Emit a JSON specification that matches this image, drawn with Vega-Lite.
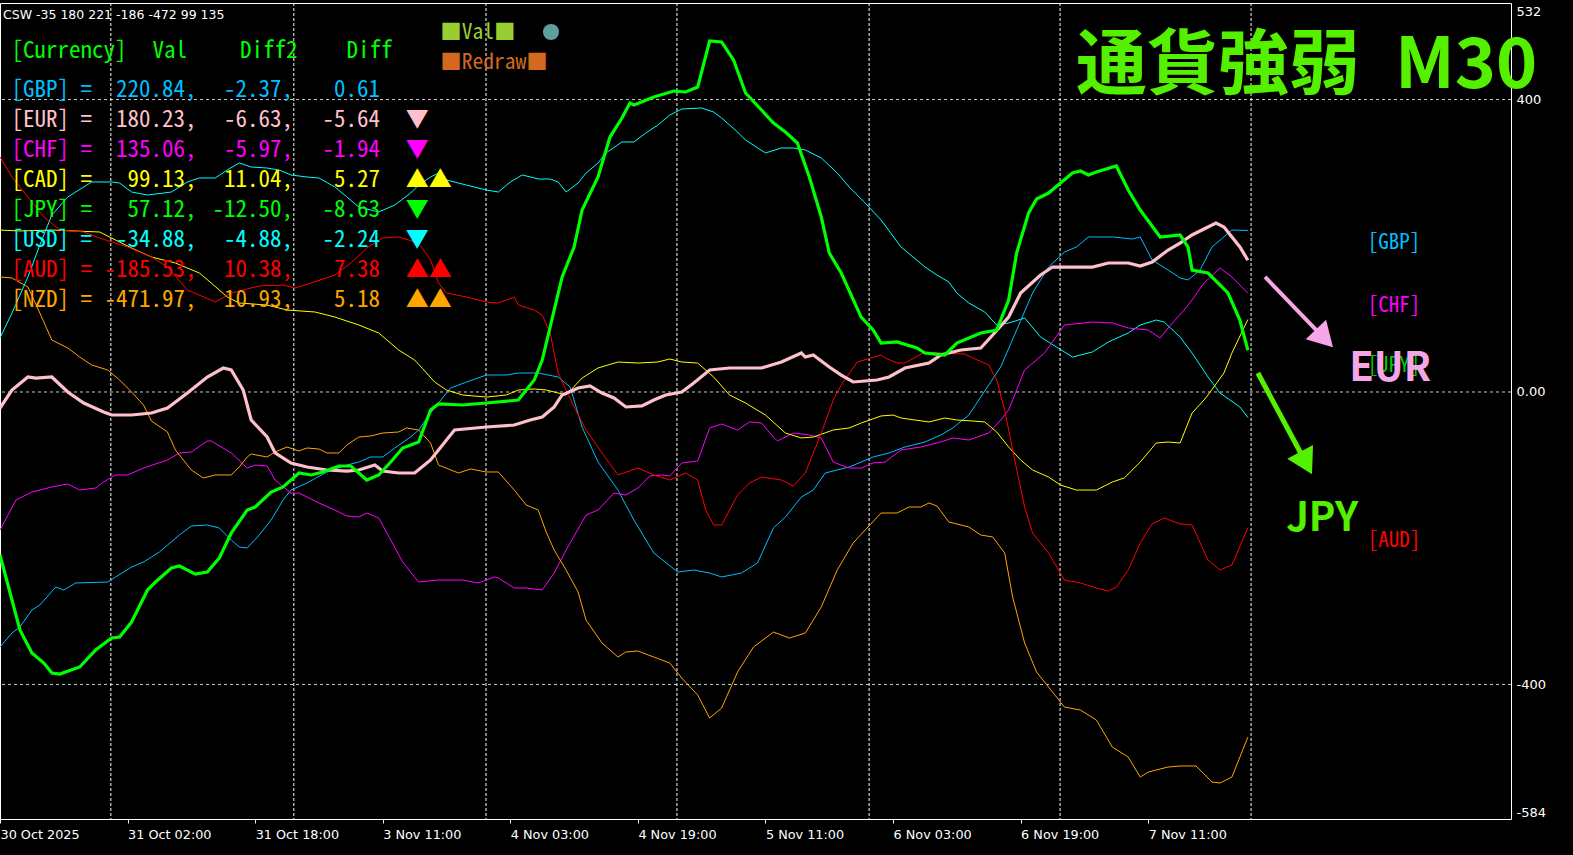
{
"$schema":"https://vega.github.io/schema/vega-lite/v6.json",
"width":1511,"height":816,
"autosize":{"type":"none"},
"padding":{"left":0,"top":3,"right":62,"bottom":36},
"background":"#000000",
"config":{"view":{"stroke":"#ffffff","strokeWidth":1},
"locale":{"number":{"decimal":".","thousands":",","grouping":[3],"currency":["$",""],"minus":"-"}}},
"datasets":{
"hgrid":[{"v":400},{"v":0},{"v":-400}],
"vgrid":[{"bar":27.8},{"bar":73.7},{"bar":121.9},{"bar":169.8},{"bar":218},{"bar":265.9},{"bar":313.8}],
"table":[
{"cur":"GBP","label":"[GBP]","val":220.84,"diff2":-2.37,"diff":0.61,"sig":""},
{"cur":"EUR","label":"[EUR]","val":180.23,"diff2":-6.63,"diff":-5.64,"sig":"▼"},
{"cur":"CHF","label":"[CHF]","val":135.06,"diff2":-5.97,"diff":-1.94,"sig":"▼"},
{"cur":"CAD","label":"[CAD]","val":99.13,"diff2":11.04,"diff":5.27,"sig":"▲▲"},
{"cur":"JPY","label":"[JPY]","val":57.12,"diff2":-12.50,"diff":-8.63,"sig":"▼"},
{"cur":"USD","label":"[USD]","val":-34.88,"diff2":-4.88,"diff":-2.24,"sig":"▼"},
{"cur":"AUD","label":"[AUD]","val":-185.53,"diff2":10.38,"diff":7.38,"sig":"▲▲"},
{"cur":"NZD","label":"[NZD]","val":-471.97,"diff2":10.93,"diff":5.18,"sig":"▲▲"}
],
"series":[
{"cur":"USD","bar":0,"v":73.8},{"cur":"USD","bar":3,"v":108.0},{"cur":"USD","bar":7,"v":157.3},{"cur":"USD","bar":10,"v":201.0},{"cur":"USD","bar":13,"v":242.1},{"cur":"USD","bar":17,"v":266.7},{"cur":"USD","bar":23,"v":287.2},{"cur":"USD","bar":28,"v":287.2},{"cur":"USD","bar":30,"v":285.8},{"cur":"USD","bar":33,"v":273.5},{"cur":"USD","bar":37,"v":269.4},{"cur":"USD","bar":41,"v":272.1},{"cur":"USD","bar":43,"v":273.5},{"cur":"USD","bar":47,"v":287.2},{"cur":"USD","bar":50,"v":292.7},{"cur":"USD","bar":54,"v":292.7},{"cur":"USD","bar":57,"v":303.6},{"cur":"USD","bar":60,"v":313.2},{"cur":"USD","bar":63,"v":307.7},{"cur":"USD","bar":67,"v":306.3},{"cur":"USD","bar":70,"v":303.6},{"cur":"USD","bar":73,"v":296.8},{"cur":"USD","bar":77,"v":294.0},{"cur":"USD","bar":80,"v":292.7},{"cur":"USD","bar":84,"v":280.4},{"cur":"USD","bar":87,"v":266.7},{"cur":"USD","bar":90,"v":253.0},{"cur":"USD","bar":95,"v":246.2},{"cur":"USD","bar":99,"v":255.7},{"cur":"USD","bar":103,"v":272.1},{"cur":"USD","bar":105,"v":283.1},{"cur":"USD","bar":108,"v":294.0},{"cur":"USD","bar":110,"v":299.5},{"cur":"USD","bar":112,"v":289.9},{"cur":"USD","bar":117,"v":283.0},{"cur":"USD","bar":122,"v":276.2},{"cur":"USD","bar":125,"v":273.5},{"cur":"USD","bar":128,"v":287.2},{"cur":"USD","bar":131,"v":296.8},{"cur":"USD","bar":135,"v":291.3},{"cur":"USD","bar":138,"v":291.3},{"cur":"USD","bar":140,"v":287.2},{"cur":"USD","bar":142,"v":273.5},{"cur":"USD","bar":145,"v":285.8},{"cur":"USD","bar":147,"v":299.5},{"cur":"USD","bar":150,"v":313.2},{"cur":"USD","bar":152,"v":326.9},{"cur":"USD","bar":156,"v":341.9},{"cur":"USD","bar":159,"v":341.9},{"cur":"USD","bar":162,"v":354.2},{"cur":"USD","bar":165,"v":365.1},{"cur":"USD","bar":168,"v":378.8},{"cur":"USD","bar":171,"v":387.0},{"cur":"USD","bar":176,"v":388.4},{"cur":"USD","bar":179,"v":382.9},{"cur":"USD","bar":181,"v":374.7},{"cur":"USD","bar":185,"v":355.6},{"cur":"USD","bar":187,"v":344.6},{"cur":"USD","bar":192,"v":326.9},{"cur":"USD","bar":196,"v":333.7},{"cur":"USD","bar":199,"v":333.7},{"cur":"USD","bar":202,"v":331.0},{"cur":"USD","bar":206,"v":320.0},{"cur":"USD","bar":210,"v":299.5},{"cur":"USD","bar":213,"v":280.4},{"cur":"USD","bar":217,"v":258.5},{"cur":"USD","bar":221,"v":235.2},{"cur":"USD","bar":226,"v":198.3},{"cur":"USD","bar":232,"v":171.0},{"cur":"USD","bar":235,"v":160.0},{"cur":"USD","bar":238,"v":150.4},{"cur":"USD","bar":240,"v":135.4},{"cur":"USD","bar":243,"v":121.7},{"cur":"USD","bar":247,"v":109.4},{"cur":"USD","bar":250,"v":91.6},{"cur":"USD","bar":253,"v":94.3},{"cur":"USD","bar":257,"v":101.2},{"cur":"USD","bar":261,"v":75.2},{"cur":"USD","bar":265,"v":61.5},{"cur":"USD","bar":269,"v":47.8},{"cur":"USD","bar":274,"v":54.7},{"cur":"USD","bar":278,"v":68.4},{"cur":"USD","bar":283,"v":80.7},{"cur":"USD","bar":286,"v":91.6},{"cur":"USD","bar":290,"v":98.4},{"cur":"USD","bar":292,"v":95.7},{"cur":"USD","bar":296,"v":75.2},{"cur":"USD","bar":299,"v":53.3},{"cur":"USD","bar":303,"v":20.5},{"cur":"USD","bar":306,"v":-1.4},{"cur":"USD","bar":311,"v":-20.5},{"cur":"USD","bar":313,"v":-34.88},
{"cur":"GBP","bar":0,"v":-348.8},{"cur":"GBP","bar":3,"v":-329.6},{"cur":"GBP","bar":5,"v":-321.4},{"cur":"GBP","bar":8,"v":-298.2},{"cur":"GBP","bar":10,"v":-291.3},{"cur":"GBP","bar":14,"v":-266.7},{"cur":"GBP","bar":16,"v":-270.8},{"cur":"GBP","bar":19,"v":-261.2},{"cur":"GBP","bar":27,"v":-259.9},{"cur":"GBP","bar":29,"v":-253.0},{"cur":"GBP","bar":33,"v":-239.4},{"cur":"GBP","bar":36,"v":-232.5},{"cur":"GBP","bar":40,"v":-218.8},{"cur":"GBP","bar":45,"v":-195.6},{"cur":"GBP","bar":48,"v":-183.3},{"cur":"GBP","bar":52,"v":-181.9},{"cur":"GBP","bar":55,"v":-186.0},{"cur":"GBP","bar":58,"v":-202.4},{"cur":"GBP","bar":60,"v":-212.0},{"cur":"GBP","bar":62,"v":-213.4},{"cur":"GBP","bar":65,"v":-195.6},{"cur":"GBP","bar":68,"v":-175.1},{"cur":"GBP","bar":71,"v":-147.7},{"cur":"GBP","bar":73,"v":-134.1},{"cur":"GBP","bar":77,"v":-124.5},{"cur":"GBP","bar":82,"v":-109.4},{"cur":"GBP","bar":87,"v":-99.9},{"cur":"GBP","bar":90,"v":-95.8},{"cur":"GBP","bar":93,"v":-88.9},{"cur":"GBP","bar":96,"v":-88.9},{"cur":"GBP","bar":99,"v":-76.6},{"cur":"GBP","bar":103,"v":-61.6},{"cur":"GBP","bar":105,"v":-52.0},{"cur":"GBP","bar":108,"v":-28.8},{"cur":"GBP","bar":113,"v":5.4},{"cur":"GBP","bar":117,"v":13.6},{"cur":"GBP","bar":122,"v":23.2},{"cur":"GBP","bar":127,"v":23.2},{"cur":"GBP","bar":130,"v":26.0},{"cur":"GBP","bar":135,"v":26.0},{"cur":"GBP","bar":140,"v":20.5},{"cur":"GBP","bar":143,"v":6.8},{"cur":"GBP","bar":146,"v":-47.9},{"cur":"GBP","bar":150,"v":-95.8},{"cur":"GBP","bar":155,"v":-134.1},{"cur":"GBP","bar":159,"v":-175.1},{"cur":"GBP","bar":164,"v":-220.2},{"cur":"GBP","bar":170,"v":-246.2},{"cur":"GBP","bar":174,"v":-243.5},{"cur":"GBP","bar":178,"v":-247.6},{"cur":"GBP","bar":181,"v":-253.0},{"cur":"GBP","bar":186,"v":-247.6},{"cur":"GBP","bar":190,"v":-233.9},{"cur":"GBP","bar":194,"v":-186.0},{"cur":"GBP","bar":197,"v":-171.0},{"cur":"GBP","bar":201,"v":-143.6},{"cur":"GBP","bar":204,"v":-134.1},{"cur":"GBP","bar":207,"v":-110.8},{"cur":"GBP","bar":213,"v":-102.6},{"cur":"GBP","bar":219,"v":-88.9},{"cur":"GBP","bar":223,"v":-83.4},{"cur":"GBP","bar":227,"v":-75.2},{"cur":"GBP","bar":232,"v":-68.4},{"cur":"GBP","bar":236,"v":-58.8},{"cur":"GBP","bar":239,"v":-49.2},{"cur":"GBP","bar":243,"v":-31.5},{"cur":"GBP","bar":246,"v":-6.9},{"cur":"GBP","bar":251,"v":34.2},{"cur":"GBP","bar":255,"v":84.8},{"cur":"GBP","bar":259,"v":135.4},{"cur":"GBP","bar":263,"v":170.9},{"cur":"GBP","bar":267,"v":191.4},{"cur":"GBP","bar":270,"v":198.3},{"cur":"GBP","bar":273,"v":212.0},{"cur":"GBP","bar":279,"v":212.0},{"cur":"GBP","bar":284,"v":209.2},{"cur":"GBP","bar":286,"v":212.0},{"cur":"GBP","bar":289,"v":180.5},{"cur":"GBP","bar":293,"v":166.8},{"cur":"GBP","bar":296,"v":155.9},{"cur":"GBP","bar":298,"v":153.2},{"cur":"GBP","bar":301,"v":166.8},{"cur":"GBP","bar":304,"v":198.3},{"cur":"GBP","bar":309,"v":221.5},{"cur":"GBP","bar":313,"v":220.84},
{"cur":"CHF","bar":0,"v":-188.8},{"cur":"CHF","bar":4,"v":-147.7},{"cur":"CHF","bar":8,"v":-136.8},{"cur":"CHF","bar":13,"v":-129.9},{"cur":"CHF","bar":17,"v":-125.8},{"cur":"CHF","bar":20,"v":-134.1},{"cur":"CHF","bar":24,"v":-131.3},{"cur":"CHF","bar":26,"v":-123.1},{"cur":"CHF","bar":29,"v":-113.5},{"cur":"CHF","bar":32,"v":-113.5},{"cur":"CHF","bar":36,"v":-104.0},{"cur":"CHF","bar":42,"v":-93.0},{"cur":"CHF","bar":45,"v":-83.4},{"cur":"CHF","bar":48,"v":-82.1},{"cur":"CHF","bar":52,"v":-67.0},{"cur":"CHF","bar":53,"v":-67.0},{"cur":"CHF","bar":58,"v":-83.4},{"cur":"CHF","bar":62,"v":-104.0},{"cur":"CHF","bar":64,"v":-99.9},{"cur":"CHF","bar":67,"v":-101.2},{"cur":"CHF","bar":69,"v":-120.4},{"cur":"CHF","bar":73,"v":-138.2},{"cur":"CHF","bar":75,"v":-138.2},{"cur":"CHF","bar":80,"v":-151.8},{"cur":"CHF","bar":84,"v":-161.4},{"cur":"CHF","bar":87,"v":-169.6},{"cur":"CHF","bar":90,"v":-171.0},{"cur":"CHF","bar":92,"v":-165.5},{"cur":"CHF","bar":95,"v":-172.4},{"cur":"CHF","bar":98,"v":-202.4},{"cur":"CHF","bar":101,"v":-232.5},{"cur":"CHF","bar":105,"v":-259.9},{"cur":"CHF","bar":110,"v":-257.2},{"cur":"CHF","bar":116,"v":-257.2},{"cur":"CHF","bar":120,"v":-261.2},{"cur":"CHF","bar":124,"v":-253.0},{"cur":"CHF","bar":125,"v":-254.4},{"cur":"CHF","bar":129,"v":-268.1},{"cur":"CHF","bar":132,"v":-268.1},{"cur":"CHF","bar":136,"v":-270.8},{"cur":"CHF","bar":139,"v":-247.6},{"cur":"CHF","bar":142,"v":-216.1},{"cur":"CHF","bar":147,"v":-168.3},{"cur":"CHF","bar":150,"v":-161.4},{"cur":"CHF","bar":154,"v":-138.2},{"cur":"CHF","bar":157,"v":-140.9},{"cur":"CHF","bar":160,"v":-131.3},{"cur":"CHF","bar":163,"v":-114.9},{"cur":"CHF","bar":166,"v":-113.5},{"cur":"CHF","bar":168,"v":-114.9},{"cur":"CHF","bar":171,"v":-97.1},{"cur":"CHF","bar":175,"v":-94.4},{"cur":"CHF","bar":178,"v":-49.2},{"cur":"CHF","bar":181,"v":-43.8},{"cur":"CHF","bar":185,"v":-52.0},{"cur":"CHF","bar":188,"v":-41.0},{"cur":"CHF","bar":191,"v":-42.4},{"cur":"CHF","bar":194,"v":-61.6},{"cur":"CHF","bar":195,"v":-67.0},{"cur":"CHF","bar":199,"v":-56.1},{"cur":"CHF","bar":203,"v":-58.8},{"cur":"CHF","bar":206,"v":-62.9},{"cur":"CHF","bar":209,"v":-95.8},{"cur":"CHF","bar":213,"v":-104.0},{"cur":"CHF","bar":216,"v":-104.0},{"cur":"CHF","bar":219,"v":-97.1},{"cur":"CHF","bar":222,"v":-95.8},{"cur":"CHF","bar":226,"v":-79.3},{"cur":"CHF","bar":231,"v":-75.2},{"cur":"CHF","bar":236,"v":-68.4},{"cur":"CHF","bar":239,"v":-62.9},{"cur":"CHF","bar":243,"v":-65.7},{"cur":"CHF","bar":248,"v":-56.1},{"cur":"CHF","bar":251,"v":-38.3},{"cur":"CHF","bar":253,"v":-24.6},{"cur":"CHF","bar":257,"v":30.1},{"cur":"CHF","bar":262,"v":53.3},{"cur":"CHF","bar":267,"v":91.6},{"cur":"CHF","bar":274,"v":95.7},{"cur":"CHF","bar":279,"v":94.3},{"cur":"CHF","bar":283,"v":87.5},{"cur":"CHF","bar":288,"v":84.8},{"cur":"CHF","bar":291,"v":73.8},{"cur":"CHF","bar":293,"v":87.5},{"cur":"CHF","bar":297,"v":112.1},{"cur":"CHF","bar":299,"v":125.8},{"cur":"CHF","bar":302,"v":149.0},{"cur":"CHF","bar":306,"v":169.6},{"cur":"CHF","bar":309,"v":157.3},{"cur":"CHF","bar":313,"v":135.06},
{"cur":"CAD","bar":0,"v":221.5},{"cur":"CAD","bar":5,"v":220.2},{"cur":"CAD","bar":13,"v":221.5},{"cur":"CAD","bar":25,"v":218.8},{"cur":"CAD","bar":28,"v":210.6},{"cur":"CAD","bar":33,"v":196.9},{"cur":"CAD","bar":38,"v":184.6},{"cur":"CAD","bar":44,"v":176.4},{"cur":"CAD","bar":50,"v":162.7},{"cur":"CAD","bar":53,"v":149.0},{"cur":"CAD","bar":57,"v":129.9},{"cur":"CAD","bar":60,"v":121.7},{"cur":"CAD","bar":67,"v":118.9},{"cur":"CAD","bar":72,"v":112.1},{"cur":"CAD","bar":79,"v":109.4},{"cur":"CAD","bar":84,"v":102.5},{"cur":"CAD","bar":90,"v":91.6},{"cur":"CAD","bar":95,"v":80.7},{"cur":"CAD","bar":100,"v":57.4},{"cur":"CAD","bar":104,"v":43.7},{"cur":"CAD","bar":106,"v":32.0},{"cur":"CAD","bar":109,"v":13.7},{"cur":"CAD","bar":112,"v":2.7},{"cur":"CAD","bar":116,"v":-4.1},{"cur":"CAD","bar":122,"v":-6.9},{"cur":"CAD","bar":127,"v":-4.1},{"cur":"CAD","bar":130,"v":2.7},{"cur":"CAD","bar":134,"v":4.1},{"cur":"CAD","bar":137,"v":2.7},{"cur":"CAD","bar":142,"v":-4.1},{"cur":"CAD","bar":146,"v":19.1},{"cur":"CAD","bar":150,"v":32.8},{"cur":"CAD","bar":155,"v":41.0},{"cur":"CAD","bar":160,"v":39.6},{"cur":"CAD","bar":165,"v":41.0},{"cur":"CAD","bar":168,"v":45.1},{"cur":"CAD","bar":171,"v":41.0},{"cur":"CAD","bar":175,"v":39.6},{"cur":"CAD","bar":179,"v":20.5},{"cur":"CAD","bar":183,"v":-4.1},{"cur":"CAD","bar":187,"v":-15.1},{"cur":"CAD","bar":192,"v":-31.5},{"cur":"CAD","bar":197,"v":-56.1},{"cur":"CAD","bar":201,"v":-62.9},{"cur":"CAD","bar":204,"v":-61.6},{"cur":"CAD","bar":209,"v":-52.0},{"cur":"CAD","bar":213,"v":-49.2},{"cur":"CAD","bar":216,"v":-42.4},{"cur":"CAD","bar":221,"v":-32.8},{"cur":"CAD","bar":224,"v":-31.5},{"cur":"CAD","bar":226,"v":-35.6},{"cur":"CAD","bar":233,"v":-41.0},{"cur":"CAD","bar":237,"v":-35.6},{"cur":"CAD","bar":240,"v":-38.3},{"cur":"CAD","bar":244,"v":-39.7},{"cur":"CAD","bar":247,"v":-41.0},{"cur":"CAD","bar":250,"v":-54.7},{"cur":"CAD","bar":253,"v":-75.2},{"cur":"CAD","bar":256,"v":-93.0},{"cur":"CAD","bar":259,"v":-106.7},{"cur":"CAD","bar":263,"v":-116.3},{"cur":"CAD","bar":266,"v":-127.2},{"cur":"CAD","bar":270,"v":-134.1},{"cur":"CAD","bar":275,"v":-134.1},{"cur":"CAD","bar":279,"v":-123.1},{"cur":"CAD","bar":282,"v":-117.6},{"cur":"CAD","bar":286,"v":-95.8},{"cur":"CAD","bar":290,"v":-69.8},{"cur":"CAD","bar":293,"v":-68.4},{"cur":"CAD","bar":296,"v":-69.8},{"cur":"CAD","bar":299,"v":-28.8},{"cur":"CAD","bar":302,"v":-11.0},{"cur":"CAD","bar":303,"v":-4.1},{"cur":"CAD","bar":307,"v":26.0},{"cur":"CAD","bar":309,"v":53.3},{"cur":"CAD","bar":313,"v":99.13},
{"cur":"AUD","bar":0,"v":321.4},{"cur":"AUD","bar":3,"v":294.0},{"cur":"AUD","bar":7,"v":266.7},{"cur":"AUD","bar":11,"v":239.3},{"cur":"AUD","bar":15,"v":221.5},{"cur":"AUD","bar":21,"v":218.8},{"cur":"AUD","bar":25,"v":210.6},{"cur":"AUD","bar":32,"v":198.3},{"cur":"AUD","bar":38,"v":184.6},{"cur":"AUD","bar":42,"v":170.9},{"cur":"AUD","bar":47,"v":139.5},{"cur":"AUD","bar":54,"v":123.1},{"cur":"AUD","bar":58,"v":135.4},{"cur":"AUD","bar":65,"v":145.0},{"cur":"AUD","bar":71,"v":146.3},{"cur":"AUD","bar":74,"v":142.2},{"cur":"AUD","bar":78,"v":149.0},{"cur":"AUD","bar":84,"v":160.0},{"cur":"AUD","bar":88,"v":176.4},{"cur":"AUD","bar":92,"v":196.9},{"cur":"AUD","bar":96,"v":210.6},{"cur":"AUD","bar":100,"v":212.0},{"cur":"AUD","bar":105,"v":203.7},{"cur":"AUD","bar":108,"v":180.5},{"cur":"AUD","bar":110,"v":149.0},{"cur":"AUD","bar":112,"v":135.4},{"cur":"AUD","bar":117,"v":129.9},{"cur":"AUD","bar":122,"v":123.1},{"cur":"AUD","bar":125,"v":121.7},{"cur":"AUD","bar":129,"v":129.9},{"cur":"AUD","bar":130,"v":118.9},{"cur":"AUD","bar":134,"v":112.1},{"cur":"AUD","bar":136,"v":105.3},{"cur":"AUD","bar":138,"v":80.7},{"cur":"AUD","bar":140,"v":26.0},{"cur":"AUD","bar":144,"v":-20.5},{"cur":"AUD","bar":147,"v":-52.0},{"cur":"AUD","bar":151,"v":-83.4},{"cur":"AUD","bar":155,"v":-113.5},{"cur":"AUD","bar":160,"v":-104.0},{"cur":"AUD","bar":164,"v":-113.5},{"cur":"AUD","bar":168,"v":-120.4},{"cur":"AUD","bar":172,"v":-110.8},{"cur":"AUD","bar":175,"v":-120.4},{"cur":"AUD","bar":177,"v":-161.4},{"cur":"AUD","bar":179,"v":-181.9},{"cur":"AUD","bar":181,"v":-181.9},{"cur":"AUD","bar":185,"v":-140.9},{"cur":"AUD","bar":188,"v":-124.5},{"cur":"AUD","bar":191,"v":-116.3},{"cur":"AUD","bar":196,"v":-120.4},{"cur":"AUD","bar":199,"v":-128.6},{"cur":"AUD","bar":202,"v":-110.8},{"cur":"AUD","bar":206,"v":-56.1},{"cur":"AUD","bar":209,"v":-11.0},{"cur":"AUD","bar":211,"v":9.6},{"cur":"AUD","bar":215,"v":41.0},{"cur":"AUD","bar":221,"v":50.6},{"cur":"AUD","bar":222,"v":46.5},{"cur":"AUD","bar":225,"v":39.6},{"cur":"AUD","bar":227,"v":39.6},{"cur":"AUD","bar":232,"v":54.7},{"cur":"AUD","bar":236,"v":53.3},{"cur":"AUD","bar":242,"v":51.9},{"cur":"AUD","bar":244,"v":46.5},{"cur":"AUD","bar":248,"v":36.9},{"cur":"AUD","bar":250,"v":16.4},{"cur":"AUD","bar":252,"v":-24.6},{"cur":"AUD","bar":254,"v":-79.3},{"cur":"AUD","bar":257,"v":-157.3},{"cur":"AUD","bar":259,"v":-192.9},{"cur":"AUD","bar":263,"v":-220.2},{"cur":"AUD","bar":267,"v":-257.2},{"cur":"AUD","bar":271,"v":-261.2},{"cur":"AUD","bar":275,"v":-268.1},{"cur":"AUD","bar":278,"v":-272.2},{"cur":"AUD","bar":280,"v":-266.7},{"cur":"AUD","bar":283,"v":-243.5},{"cur":"AUD","bar":286,"v":-206.5},{"cur":"AUD","bar":289,"v":-180.5},{"cur":"AUD","bar":292,"v":-172.4},{"cur":"AUD","bar":296,"v":-180.5},{"cur":"AUD","bar":299,"v":-181.9},{"cur":"AUD","bar":303,"v":-229.8},{"cur":"AUD","bar":306,"v":-243.5},{"cur":"AUD","bar":309,"v":-236.6},{"cur":"AUD","bar":313,"v":-185.53},
{"cur":"NZD","bar":0,"v":157.3},{"cur":"NZD","bar":3,"v":155.9},{"cur":"NZD","bar":7,"v":143.6},{"cur":"NZD","bar":10,"v":108.0},{"cur":"NZD","bar":13,"v":71.1},{"cur":"NZD","bar":17,"v":60.2},{"cur":"NZD","bar":20,"v":47.8},{"cur":"NZD","bar":23,"v":36.9},{"cur":"NZD","bar":27,"v":30.1},{"cur":"NZD","bar":30,"v":16.4},{"cur":"NZD","bar":33,"v":0.0},{"cur":"NZD","bar":36,"v":-17.8},{"cur":"NZD","bar":38,"v":-39.7},{"cur":"NZD","bar":42,"v":-54.7},{"cur":"NZD","bar":44,"v":-79.3},{"cur":"NZD","bar":48,"v":-106.7},{"cur":"NZD","bar":51,"v":-117.6},{"cur":"NZD","bar":54,"v":-113.5},{"cur":"NZD","bar":58,"v":-113.5},{"cur":"NZD","bar":60,"v":-102.6},{"cur":"NZD","bar":62,"v":-88.9},{"cur":"NZD","bar":63,"v":-84.8},{"cur":"NZD","bar":67,"v":-88.9},{"cur":"NZD","bar":69,"v":-82.1},{"cur":"NZD","bar":72,"v":-75.2},{"cur":"NZD","bar":75,"v":-80.7},{"cur":"NZD","bar":77,"v":-76.6},{"cur":"NZD","bar":80,"v":-78.0},{"cur":"NZD","bar":82,"v":-83.4},{"cur":"NZD","bar":85,"v":-83.4},{"cur":"NZD","bar":87,"v":-72.5},{"cur":"NZD","bar":90,"v":-61.6},{"cur":"NZD","bar":93,"v":-60.2},{"cur":"NZD","bar":96,"v":-56.1},{"cur":"NZD","bar":100,"v":-54.7},{"cur":"NZD","bar":102,"v":-49.2},{"cur":"NZD","bar":105,"v":-52.0},{"cur":"NZD","bar":108,"v":-69.8},{"cur":"NZD","bar":110,"v":-99.9},{"cur":"NZD","bar":115,"v":-110.8},{"cur":"NZD","bar":118,"v":-105.3},{"cur":"NZD","bar":122,"v":-109.4},{"cur":"NZD","bar":125,"v":-109.4},{"cur":"NZD","bar":129,"v":-134.1},{"cur":"NZD","bar":132,"v":-154.6},{"cur":"NZD","bar":135,"v":-161.4},{"cur":"NZD","bar":137,"v":-191.5},{"cur":"NZD","bar":139,"v":-216.1},{"cur":"NZD","bar":142,"v":-243.5},{"cur":"NZD","bar":145,"v":-273.6},{"cur":"NZD","bar":147,"v":-311.9},{"cur":"NZD","bar":151,"v":-343.3},{"cur":"NZD","bar":155,"v":-362.5},{"cur":"NZD","bar":157,"v":-355.6},{"cur":"NZD","bar":160,"v":-354.2},{"cur":"NZD","bar":164,"v":-362.5},{"cur":"NZD","bar":168,"v":-370.7},{"cur":"NZD","bar":171,"v":-391.2},{"cur":"NZD","bar":175,"v":-414.4},{"cur":"NZD","bar":178,"v":-445.9},{"cur":"NZD","bar":181,"v":-432.2},{"cur":"NZD","bar":185,"v":-383.0},{"cur":"NZD","bar":189,"v":-348.8},{"cur":"NZD","bar":194,"v":-328.3},{"cur":"NZD","bar":198,"v":-336.5},{"cur":"NZD","bar":202,"v":-329.6},{"cur":"NZD","bar":206,"v":-294.0},{"cur":"NZD","bar":210,"v":-243.5},{"cur":"NZD","bar":214,"v":-206.5},{"cur":"NZD","bar":217,"v":-188.8},{"cur":"NZD","bar":221,"v":-165.5},{"cur":"NZD","bar":225,"v":-165.5},{"cur":"NZD","bar":228,"v":-157.3},{"cur":"NZD","bar":231,"v":-157.3},{"cur":"NZD","bar":233,"v":-151.8},{"cur":"NZD","bar":235,"v":-155.9},{"cur":"NZD","bar":238,"v":-177.8},{"cur":"NZD","bar":243,"v":-184.6},{"cur":"NZD","bar":246,"v":-195.6},{"cur":"NZD","bar":249,"v":-198.3},{"cur":"NZD","bar":252,"v":-220.2},{"cur":"NZD","bar":254,"v":-280.4},{"cur":"NZD","bar":257,"v":-343.3},{"cur":"NZD","bar":260,"v":-383.0},{"cur":"NZD","bar":263,"v":-403.5},{"cur":"NZD","bar":267,"v":-430.9},{"cur":"NZD","bar":271,"v":-435.0},{"cur":"NZD","bar":275,"v":-448.6},{"cur":"NZD","bar":279,"v":-485.6},{"cur":"NZD","bar":283,"v":-499.3},{"cur":"NZD","bar":286,"v":-526.6},{"cur":"NZD","bar":288,"v":-519.8},{"cur":"NZD","bar":293,"v":-512.9},{"cur":"NZD","bar":296,"v":-511.5},{"cur":"NZD","bar":300,"v":-511.5},{"cur":"NZD","bar":304,"v":-533.4},{"cur":"NZD","bar":306,"v":-534.8},{"cur":"NZD","bar":309,"v":-526.6},{"cur":"NZD","bar":313,"v":-471.97},
{"cur":"EUR","bar":0,"v":-21.9},{"cur":"EUR","bar":3,"v":2.7},{"cur":"EUR","bar":7,"v":20.5},{"cur":"EUR","bar":9,"v":19.1},{"cur":"EUR","bar":13,"v":20.5},{"cur":"EUR","bar":17,"v":0.0},{"cur":"EUR","bar":21,"v":-15.1},{"cur":"EUR","bar":26,"v":-27.4},{"cur":"EUR","bar":28,"v":-31.5},{"cur":"EUR","bar":33,"v":-31.5},{"cur":"EUR","bar":38,"v":-28.8},{"cur":"EUR","bar":42,"v":-21.9},{"cur":"EUR","bar":47,"v":-1.4},{"cur":"EUR","bar":52,"v":20.5},{"cur":"EUR","bar":56,"v":32.8},{"cur":"EUR","bar":58,"v":30.1},{"cur":"EUR","bar":61,"v":2.7},{"cur":"EUR","bar":63,"v":-38.3},{"cur":"EUR","bar":67,"v":-61.6},{"cur":"EUR","bar":69,"v":-83.4},{"cur":"EUR","bar":73,"v":-97.1},{"cur":"EUR","bar":77,"v":-102.6},{"cur":"EUR","bar":82,"v":-106.7},{"cur":"EUR","bar":87,"v":-108.1},{"cur":"EUR","bar":90,"v":-106.7},{"cur":"EUR","bar":94,"v":-99.9},{"cur":"EUR","bar":96,"v":-108.1},{"cur":"EUR","bar":100,"v":-110.8},{"cur":"EUR","bar":104,"v":-110.8},{"cur":"EUR","bar":108,"v":-93.0},{"cur":"EUR","bar":114,"v":-52.0},{"cur":"EUR","bar":122,"v":-47.9},{"cur":"EUR","bar":129,"v":-45.2},{"cur":"EUR","bar":133,"v":-38.3},{"cur":"EUR","bar":136,"v":-34.2},{"cur":"EUR","bar":139,"v":-20.5},{"cur":"EUR","bar":141,"v":-4.1},{"cur":"EUR","bar":145,"v":5.4},{"cur":"EUR","bar":148,"v":8.2},{"cur":"EUR","bar":151,"v":-1.4},{"cur":"EUR","bar":154,"v":-8.2},{"cur":"EUR","bar":157,"v":-20.5},{"cur":"EUR","bar":161,"v":-19.1},{"cur":"EUR","bar":164,"v":-11.0},{"cur":"EUR","bar":167,"v":-4.1},{"cur":"EUR","bar":171,"v":0.0},{"cur":"EUR","bar":174,"v":12.3},{"cur":"EUR","bar":178,"v":30.1},{"cur":"EUR","bar":183,"v":32.8},{"cur":"EUR","bar":187,"v":32.8},{"cur":"EUR","bar":191,"v":32.8},{"cur":"EUR","bar":196,"v":41.0},{"cur":"EUR","bar":201,"v":53.3},{"cur":"EUR","bar":202,"v":47.8},{"cur":"EUR","bar":204,"v":50.6},{"cur":"EUR","bar":208,"v":34.2},{"cur":"EUR","bar":211,"v":23.2},{"cur":"EUR","bar":214,"v":13.7},{"cur":"EUR","bar":220,"v":16.4},{"cur":"EUR","bar":223,"v":20.5},{"cur":"EUR","bar":227,"v":32.8},{"cur":"EUR","bar":233,"v":39.6},{"cur":"EUR","bar":236,"v":50.6},{"cur":"EUR","bar":241,"v":57.4},{"cur":"EUR","bar":246,"v":60.2},{"cur":"EUR","bar":249,"v":77.9},{"cur":"EUR","bar":253,"v":102.5},{"cur":"EUR","bar":256,"v":135.4},{"cur":"EUR","bar":261,"v":160.0},{"cur":"EUR","bar":264,"v":170.9},{"cur":"EUR","bar":269,"v":170.9},{"cur":"EUR","bar":274,"v":170.9},{"cur":"EUR","bar":278,"v":176.4},{"cur":"EUR","bar":283,"v":176.4},{"cur":"EUR","bar":286,"v":172.3},{"cur":"EUR","bar":289,"v":177.8},{"cur":"EUR","bar":293,"v":194.2},{"cur":"EUR","bar":296,"v":203.7},{"cur":"EUR","bar":299,"v":214.7},{"cur":"EUR","bar":303,"v":225.6},{"cur":"EUR","bar":305,"v":231.1},{"cur":"EUR","bar":307,"v":225.6},{"cur":"EUR","bar":311,"v":198.3},{"cur":"EUR","bar":313,"v":180.23},
{"cur":"JPY","bar":0,"v":-222.9},{"cur":"JPY","bar":3,"v":-284.5},{"cur":"JPY","bar":5,"v":-325.5},{"cur":"JPY","bar":8,"v":-357.0},{"cur":"JPY","bar":11,"v":-370.7},{"cur":"JPY","bar":13,"v":-384.3},{"cur":"JPY","bar":15,"v":-385.7},{"cur":"JPY","bar":20,"v":-376.1},{"cur":"JPY","bar":24,"v":-352.9},{"cur":"JPY","bar":28,"v":-336.5},{"cur":"JPY","bar":30,"v":-335.1},{"cur":"JPY","bar":33,"v":-314.6},{"cur":"JPY","bar":37,"v":-270.8},{"cur":"JPY","bar":39,"v":-259.9},{"cur":"JPY","bar":43,"v":-240.7},{"cur":"JPY","bar":45,"v":-238.0},{"cur":"JPY","bar":49,"v":-249.0},{"cur":"JPY","bar":52,"v":-246.2},{"cur":"JPY","bar":55,"v":-227.1},{"cur":"JPY","bar":58,"v":-192.9},{"cur":"JPY","bar":62,"v":-161.4},{"cur":"JPY","bar":64,"v":-157.3},{"cur":"JPY","bar":68,"v":-136.8},{"cur":"JPY","bar":71,"v":-129.9},{"cur":"JPY","bar":75,"v":-110.8},{"cur":"JPY","bar":78,"v":-113.5},{"cur":"JPY","bar":81,"v":-109.4},{"cur":"JPY","bar":85,"v":-101.2},{"cur":"JPY","bar":88,"v":-101.2},{"cur":"JPY","bar":90,"v":-110.8},{"cur":"JPY","bar":92,"v":-120.4},{"cur":"JPY","bar":95,"v":-113.5},{"cur":"JPY","bar":98,"v":-95.8},{"cur":"JPY","bar":101,"v":-76.6},{"cur":"JPY","bar":105,"v":-68.4},{"cur":"JPY","bar":108,"v":-24.6},{"cur":"JPY","bar":110,"v":-16.4},{"cur":"JPY","bar":116,"v":-17.8},{"cur":"JPY","bar":122,"v":-15.1},{"cur":"JPY","bar":130,"v":-11.0},{"cur":"JPY","bar":134,"v":16.4},{"cur":"JPY","bar":136,"v":43.7},{"cur":"JPY","bar":138,"v":88.9},{"cur":"JPY","bar":141,"v":157.3},{"cur":"JPY","bar":144,"v":198.3},{"cur":"JPY","bar":146,"v":248.9},{"cur":"JPY","bar":150,"v":294.0},{"cur":"JPY","bar":153,"v":348.7},{"cur":"JPY","bar":156,"v":374.7},{"cur":"JPY","bar":158,"v":395.2},{"cur":"JPY","bar":159,"v":392.5},{"cur":"JPY","bar":164,"v":403.4},{"cur":"JPY","bar":169,"v":411.6},{"cur":"JPY","bar":172,"v":410.3},{"cur":"JPY","bar":175,"v":417.1},{"cur":"JPY","bar":178,"v":480.0},{"cur":"JPY","bar":181,"v":478.7},{"cur":"JPY","bar":184,"v":454.0},{"cur":"JPY","bar":187,"v":408.9},{"cur":"JPY","bar":191,"v":385.7},{"cur":"JPY","bar":194,"v":367.9},{"cur":"JPY","bar":197,"v":355.6},{"cur":"JPY","bar":200,"v":340.5},{"cur":"JPY","bar":203,"v":294.0},{"cur":"JPY","bar":206,"v":239.3},{"cur":"JPY","bar":208,"v":190.1},{"cur":"JPY","bar":211,"v":162.7},{"cur":"JPY","bar":216,"v":102.5},{"cur":"JPY","bar":219,"v":84.8},{"cur":"JPY","bar":221,"v":67.0},{"cur":"JPY","bar":225,"v":68.4},{"cur":"JPY","bar":230,"v":60.2},{"cur":"JPY","bar":232,"v":53.3},{"cur":"JPY","bar":237,"v":50.6},{"cur":"JPY","bar":240,"v":67.0},{"cur":"JPY","bar":246,"v":80.7},{"cur":"JPY","bar":250,"v":84.8},{"cur":"JPY","bar":253,"v":125.8},{"cur":"JPY","bar":255,"v":190.1},{"cur":"JPY","bar":258,"v":244.8},{"cur":"JPY","bar":260,"v":263.9},{"cur":"JPY","bar":263,"v":272.1},{"cur":"JPY","bar":269,"v":299.5},{"cur":"JPY","bar":271,"v":302.2},{"cur":"JPY","bar":273,"v":296.8},{"cur":"JPY","bar":275,"v":300.9},{"cur":"JPY","bar":280,"v":309.1},{"cur":"JPY","bar":283,"v":276.2},{"cur":"JPY","bar":286,"v":248.9},{"cur":"JPY","bar":291,"v":211.9},{"cur":"JPY","bar":296,"v":214.7},{"cur":"JPY","bar":298,"v":198.3},{"cur":"JPY","bar":299,"v":166.8},{"cur":"JPY","bar":303,"v":162.7},{"cur":"JPY","bar":308,"v":135.4},{"cur":"JPY","bar":311,"v":98.4},{"cur":"JPY","bar":313,"v":57.12}
]
},
"layer":[
{"layer":[
{"data":{"name":"hgrid"},"mark":{"type":"rule","color":"#c8c8c8","strokeDash":[3,3],"strokeWidth":1},
 "encoding":{"y":{"field":"v","type":"quantitative","scale":{"domain":[-584,532],"nice":false,"zero":false}}}},
{"data":{"name":"vgrid"},"mark":{"type":"rule","color":"#ffffff","strokeDash":[3,2],"strokeWidth":1},
 "encoding":{"x":{"field":"bar","type":"quantitative","scale":{"domain":[0,379],"nice":false,"zero":false}}}},
{"data":{"name":"series"},"transform":[{"filter":"datum.cur != 'EUR' && datum.cur != 'JPY'"}],
 "mark":{"type":"line","strokeWidth":1},
 "encoding":{
  "x":{"field":"bar","type":"quantitative","scale":{"domain":[0,379],"nice":false,"zero":false},
   "axis":{"values":[0,32,64,96,128,160,192,224,256,288],"labelExpr":"['30 Oct 2025','31 Oct 02:00','31 Oct 18:00','3 Nov 11:00','4 Nov 03:00','4 Nov 19:00','5 Nov 11:00','6 Nov 03:00','6 Nov 19:00','7 Nov 11:00'][round(datum.value/32)]","labelAlign":"left","labelBaseline":"top","labelPadding":5,"ticks":true,"tickSize":4,"tickColor":"#ffffff","domain":false,"grid":false,"labelColor":"#ffffff","labelFont":"DejaVu Sans","labelFontSize":12.8,"labelOverlap":false,"labelFlush":false,"title":null}},
  "y":{"field":"v","type":"quantitative","scale":{"domain":[-584,532],"nice":false,"zero":false},
   "axis":{"orient":"right","values":[532,400,0,-400,-584],"labelExpr":"datum.value == 0 ? '0.00' : '' + datum.value","ticks":false,"domain":false,"grid":false,"labelPadding":5,"labelFlush":true,"labelOffset":{"condition":{"test":"datum.value == 532","value":2},"value":0},"labelColor":"#ffffff","labelFont":"DejaVu Sans","labelFontSize":13,"labelOverlap":false,"title":null}},
  "color":{"field":"cur","type":"nominal","scale":{"domain":["GBP","EUR","CHF","CAD","JPY","USD","AUD","NZD"],"range":["#00bfff","#ffc0cb","#ff00ff","#ffff00","#00ff00","#00ffff","#ff0000","#ffa500"]},"legend":null}}},
{"data":{"name":"series"},"transform":[{"filter":"datum.cur == 'EUR' || datum.cur == 'JPY'"}],
 "mark":{"type":"line","strokeWidth":3.2},
 "encoding":{
  "x":{"field":"bar","type":"quantitative","scale":{"domain":[0,379],"nice":false,"zero":false}},
  "y":{"field":"v","type":"quantitative","scale":{"domain":[-584,532],"nice":false,"zero":false}},
  "color":{"field":"cur","type":"nominal","scale":{"domain":["GBP","EUR","CHF","CAD","JPY","USD","AUD","NZD"],"range":["#00bfff","#ffc0cb","#ff00ff","#ffff00","#00ff00","#00ffff","#ff0000","#ffa500"]},"legend":null}}},
{"data":{"values":[{}]},"mark":{"type":"text","text":"CSW -35 180 221 -186 -472 99 135","align":"left","baseline":"middle","font":"DejaVu Sans","fontSize":12.5,"color":"#ffffff"},
 "encoding":{"x":{"datum":0.75,"type":"quantitative","scale":{"domain":[0,379],"nice":false,"zero":false}},"y":{"datum":515.6,"type":"quantitative","scale":{"domain":[-584,532],"nice":false,"zero":false}}}},
{"data":{"values":[{}]},"mark":{"type":"text","text":"[Currency]","align":"left","baseline":"middle","font":"Noto Sans Mono CJK JP, Noto Sans CJK JP, monospace","fontSize":23,"color":"#00ff00"},
 "encoding":{"x":{"datum":2.885,"type":"quantitative","scale":{"domain":[0,379],"nice":false,"zero":false}},"y":{"datum":465.7,"type":"quantitative","scale":{"domain":[-584,532],"nice":false,"zero":false}}}},
{"data":{"values":[{}]},"mark":{"type":"text","text":"Val","align":"right","baseline":"middle","font":"Noto Sans Mono CJK JP, Noto Sans CJK JP, monospace","fontSize":23,"color":"#00ff00"},
 "encoding":{"x":{"datum":46.9,"type":"quantitative","scale":{"domain":[0,379],"nice":false,"zero":false}},"y":{"datum":465.7,"type":"quantitative","scale":{"domain":[-584,532],"nice":false,"zero":false}}}},
{"data":{"values":[{}]},"mark":{"type":"text","text":"Diff2","align":"right","baseline":"middle","font":"Noto Sans Mono CJK JP, Noto Sans CJK JP, monospace","fontSize":23,"color":"#00ff00"},
 "encoding":{"x":{"datum":74.6,"type":"quantitative","scale":{"domain":[0,379],"nice":false,"zero":false}},"y":{"datum":465.7,"type":"quantitative","scale":{"domain":[-584,532],"nice":false,"zero":false}}}},
{"data":{"values":[{}]},"mark":{"type":"text","text":"Diff","align":"right","baseline":"middle","font":"Noto Sans Mono CJK JP, Noto Sans CJK JP, monospace","fontSize":23,"color":"#00ff00"},
 "encoding":{"x":{"datum":98.45,"type":"quantitative","scale":{"domain":[0,379],"nice":false,"zero":false}},"y":{"datum":465.7,"type":"quantitative","scale":{"domain":[-584,532],"nice":false,"zero":false}}}},
{"data":{"values":[{}]},"mark":{"type":"text","text":"■Val■","align":"left","baseline":"middle","font":"Noto Sans Mono CJK JP, Noto Sans CJK JP, monospace","fontSize":21.5,"color":"#9acd32"},
 "encoding":{"x":{"datum":110.4,"type":"quantitative","scale":{"domain":[0,379],"nice":false,"zero":false}},"y":{"datum":491.0,"type":"quantitative","scale":{"domain":[-584,532],"nice":false,"zero":false}}}},
{"data":{"values":[{}]},"mark":{"type":"point","shape":"circle","filled":true,"size":260,"color":"#5f9ea0","opacity":1},
 "encoding":{"x":{"datum":138.2,"type":"quantitative","scale":{"domain":[0,379],"nice":false,"zero":false}},"y":{"datum":492.3,"type":"quantitative","scale":{"domain":[-584,532],"nice":false,"zero":false}}}},
{"data":{"values":[{}]},"mark":{"type":"text","text":"■Redraw■","align":"left","baseline":"middle","font":"Noto Sans Mono CJK JP, Noto Sans CJK JP, monospace","fontSize":21.5,"color":"#d2691e"},
 "encoding":{"x":{"datum":110.4,"type":"quantitative","scale":{"domain":[0,379],"nice":false,"zero":false}},"y":{"datum":449.9,"type":"quantitative","scale":{"domain":[-584,532],"nice":false,"zero":false}}}},
{"data":{"values":[{}]},"mark":{"type":"text","text":"通貨強弱","align":"left","baseline":"alphabetic","font":"Noto Sans CJK JP","fontWeight":"bold","fontSize":71,"color":"#55f000"},
 "encoding":{"x":{"datum":269.9,"type":"quantitative","scale":{"domain":[0,379],"nice":false,"zero":false}},"y":{"datum":416.4,"type":"quantitative","scale":{"domain":[-584,532],"nice":false,"zero":false}}}},
{"data":{"values":[{}]},"mark":{"type":"text","text":"M30","align":"left","baseline":"alphabetic","font":"Noto Sans CJK JP","fontWeight":"bold","fontSize":70,"color":"#55f000"},
 "encoding":{"x":{"datum":349.9,"type":"quantitative","scale":{"domain":[0,379],"nice":false,"zero":false}},"y":{"datum":416.4,"type":"quantitative","scale":{"domain":[-584,532],"nice":false,"zero":false}}}},
{"data":{"values":[{}]},"mark":{"type":"text","text":"[GBP]","align":"left","baseline":"middle","font":"Noto Sans Mono CJK JP, Noto Sans CJK JP, monospace","fontSize":21,"color":"#00bfff"},
 "encoding":{"x":{"datum":343.1,"type":"quantitative","scale":{"domain":[0,379],"nice":false,"zero":false}},"y":{"datum":203.8,"type":"quantitative","scale":{"domain":[-584,532],"nice":false,"zero":false}}}},
{"data":{"values":[{}]},"mark":{"type":"text","text":"[CHF]","align":"left","baseline":"middle","font":"Noto Sans Mono CJK JP, Noto Sans CJK JP, monospace","fontSize":21,"color":"#ff00ff"},
 "encoding":{"x":{"datum":343.1,"type":"quantitative","scale":{"domain":[0,379],"nice":false,"zero":false}},"y":{"datum":117.6,"type":"quantitative","scale":{"domain":[-584,532],"nice":false,"zero":false}}}},
{"data":{"values":[{}]},"mark":{"type":"text","text":"[JPY]","align":"left","baseline":"middle","font":"Noto Sans Mono CJK JP, Noto Sans CJK JP, monospace","fontSize":21,"color":"#00cc00"},
 "encoding":{"x":{"datum":343.1,"type":"quantitative","scale":{"domain":[0,379],"nice":false,"zero":false}},"y":{"datum":36.2,"type":"quantitative","scale":{"domain":[-584,532],"nice":false,"zero":false}}}},
{"data":{"values":[{}]},"mark":{"type":"text","text":"[AUD]","align":"left","baseline":"middle","font":"Noto Sans Mono CJK JP, Noto Sans CJK JP, monospace","fontSize":21,"color":"#ff0000"},
 "encoding":{"x":{"datum":343.1,"type":"quantitative","scale":{"domain":[0,379],"nice":false,"zero":false}},"y":{"datum":-203.8,"type":"quantitative","scale":{"domain":[-584,532],"nice":false,"zero":false}}}},
{"data":{"values":[{}]},"mark":{"type":"text","text":"EUR","align":"left","baseline":"middle","font":"Noto Sans CJK JP","fontWeight":"bold","fontSize":40,"color":"#f5a6e8"},
 "encoding":{"x":{"datum":338.4,"type":"quantitative","scale":{"domain":[0,379],"nice":false,"zero":false}},"y":{"datum":32.0,"type":"quantitative","scale":{"domain":[-584,532],"nice":false,"zero":false}}}},
{"data":{"values":[{}]},"mark":{"type":"text","text":"JPY","align":"left","baseline":"middle","font":"Noto Sans CJK JP","fontWeight":"bold","fontSize":40,"color":"#55f000"},
 "encoding":{"x":{"datum":322.6,"type":"quantitative","scale":{"domain":[0,379],"nice":false,"zero":false}},"y":{"datum":-173.7,"type":"quantitative","scale":{"domain":[-584,532],"nice":false,"zero":false}}}},
{"data":{"values":[{}]},"mark":{"type":"rule","color":"#f5a6e8","strokeWidth":4},
 "encoding":{"x":{"datum":317.3,"type":"quantitative","scale":{"domain":[0,379],"nice":false,"zero":false}},"y":{"datum":157.3,"type":"quantitative","scale":{"domain":[-584,532],"nice":false,"zero":false}},"x2":{"datum":332.1},"y2":{"datum":73.8}}},
{"data":{"values":[{}]},"mark":{"type":"point","shape":"triangle-up","filled":true,"size":800,"angle":136,"color":"#f5a6e8","opacity":1},
 "encoding":{"x":{"datum":332.2,"type":"quantitative","scale":{"domain":[0,379],"nice":false,"zero":false}},"y":{"datum":73.4,"type":"quantitative","scale":{"domain":[-584,532],"nice":false,"zero":false}}}},
{"data":{"values":[{}]},"mark":{"type":"rule","color":"#55f000","strokeWidth":5},
 "encoding":{"x":{"datum":315.5,"type":"quantitative","scale":{"domain":[0,379],"nice":false,"zero":false}},"y":{"datum":26.0,"type":"quantitative","scale":{"domain":[-584,532],"nice":false,"zero":false}},"x2":{"datum":327.6},"y2":{"datum":-97.1}}},
{"data":{"values":[{}]},"mark":{"type":"point","shape":"triangle-up","filled":true,"size":850,"angle":152,"color":"#55f000","opacity":1},
 "encoding":{"x":{"datum":327.6,"type":"quantitative","scale":{"domain":[0,379],"nice":false,"zero":false}},"y":{"datum":-97.1,"type":"quantitative","scale":{"domain":[-584,532],"nice":false,"zero":false}}}}
]},
{"data":{"name":"table"},
 "encoding":{
  "y":{"field":"cur","type":"nominal","scale":{"type":"point","domain":["GBP","EUR","CHF","CAD","JPY","USD","AUD","NZD"],"range":[86.5,296.5],"padding":0},"axis":null},
  "color":{"field":"cur","type":"nominal","scale":{"domain":["GBP","EUR","CHF","CAD","JPY","USD","AUD","NZD"],"range":["#00bfff","#ffc0cb","#ff00ff","#ffff00","#00ff00","#00ffff","#ff0000","#ffa500"]},"legend":null}},
 "layer":[
  {"mark":{"type":"text","align":"left","baseline":"middle","font":"Noto Sans Mono CJK JP, Noto Sans CJK JP, monospace","fontSize":23},
   "encoding":{"x":{"datum":2.885,"type":"quantitative","scale":{"domain":[0,379],"nice":false,"zero":false}},"text":{"field":"label","type":"nominal"}}},
  {"mark":{"type":"text","text":"=","align":"left","baseline":"middle","font":"Noto Sans Mono CJK JP, Noto Sans CJK JP, monospace","fontSize":23},
   "encoding":{"x":{"datum":20.19,"type":"quantitative","scale":{"domain":[0,379],"nice":false,"zero":false}}}},
  {"mark":{"type":"text","align":"right","baseline":"middle","font":"Noto Sans Mono CJK JP, Noto Sans CJK JP, monospace","fontSize":23},
   "encoding":{"x":{"datum":46.4,"type":"quantitative","scale":{"domain":[0,379],"nice":false,"zero":false}},"text":{"field":"val","type":"quantitative","format":".2f"}}},
  {"mark":{"type":"text","text":",","align":"left","baseline":"middle","font":"Noto Sans Mono CJK JP, Noto Sans CJK JP, monospace","fontSize":23},
   "encoding":{"x":{"datum":46.4,"type":"quantitative","scale":{"domain":[0,379],"nice":false,"zero":false}}}},
  {"mark":{"type":"text","align":"right","baseline":"middle","font":"Noto Sans Mono CJK JP, Noto Sans CJK JP, monospace","fontSize":23},
   "encoding":{"x":{"datum":70.61,"type":"quantitative","scale":{"domain":[0,379],"nice":false,"zero":false}},"text":{"field":"diff2","type":"quantitative","format":".2f"}}},
  {"mark":{"type":"text","text":",","align":"left","baseline":"middle","font":"Noto Sans Mono CJK JP, Noto Sans CJK JP, monospace","fontSize":23},
   "encoding":{"x":{"datum":70.61,"type":"quantitative","scale":{"domain":[0,379],"nice":false,"zero":false}}}},
  {"mark":{"type":"text","align":"right","baseline":"middle","font":"Noto Sans Mono CJK JP, Noto Sans CJK JP, monospace","fontSize":23},
   "encoding":{"x":{"datum":95.32,"type":"quantitative","scale":{"domain":[0,379],"nice":false,"zero":false}},"text":{"field":"diff","type":"quantitative","format":".2f"}}},
  {"mark":{"type":"text","align":"left","baseline":"middle","font":"Noto Sans Mono CJK JP, Noto Sans CJK JP, monospace","fontSize":23},
   "encoding":{"x":{"datum":101.8,"type":"quantitative","scale":{"domain":[0,379],"nice":false,"zero":false}},"text":{"field":"sig","type":"nominal"}}}
 ]}
],
"resolve":{"scale":{"y":"independent"}}
}
